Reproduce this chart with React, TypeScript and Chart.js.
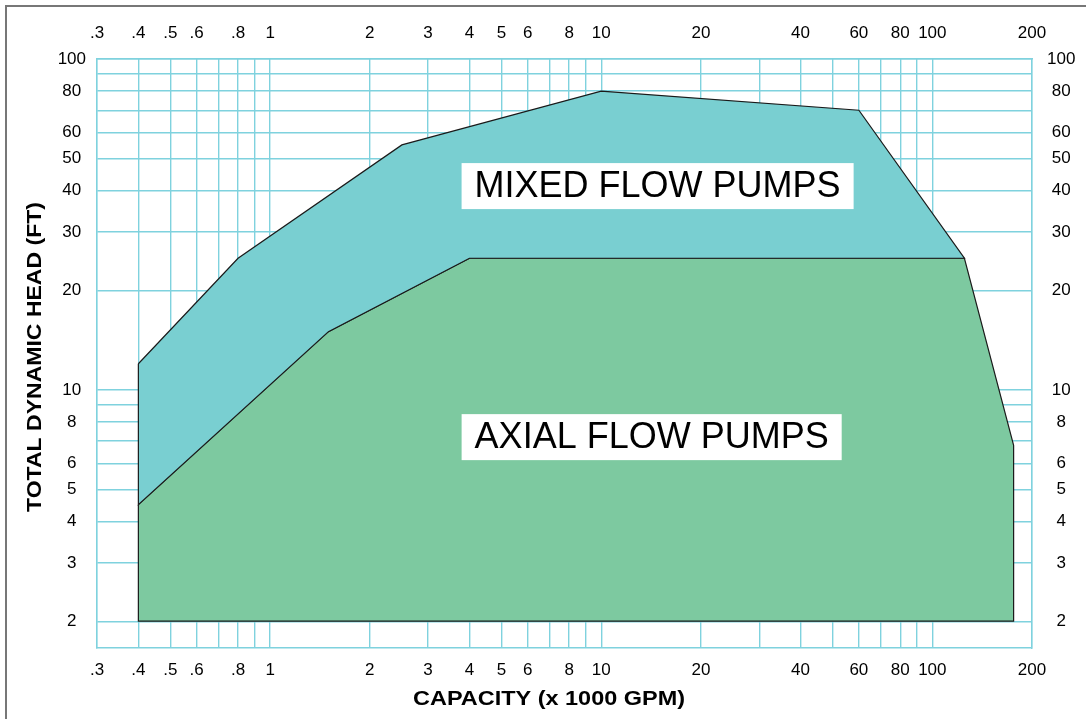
import React, { useEffect, useRef } from "react";
import { Chart, registerables } from "chart.js";

Chart.register(...registerables);

// ---- data ----
const xGridValues = [0.3, 0.4, 0.5, 0.6, 0.7, 0.8, 0.9, 1, 2, 3, 4, 5, 6, 7, 8, 9, 10, 20, 30, 40, 50, 60, 70, 80, 90, 100, 200];
const xLabelValues = [0.3, 0.4, 0.5, 0.6, 0.8, 1, 2, 3, 4, 5, 6, 8, 10, 20, 40, 60, 80, 100, 200];
const xLabelTexts = [".3", ".4", ".5", ".6", ".8", "1", "2", "3", "4", "5", "6", "8", "10", "20", "40", "60", "80", "100", "200"];

const yGridValues = [2, 3, 4, 5, 6, 7, 8, 9, 10, 20, 30, 40, 50, 60, 70, 80, 90, 100];
const yLabelValues = [2, 3, 4, 5, 6, 8, 10, 20, 30, 40, 50, 60, 80, 100];
const yLabelTexts = ["2", "3", "4", "5", "6", "8", "10", "20", "30", "40", "50", "60", "80", "100"];

const mixedX = [0.4, 0.8, 2.5, 10, 60, 125, 4, 1.5, 0.4, 0.4];
const mixedY = [12, 25, 55, 80, 70, 25, 25, 15, 4.5, 12];

const axialX = [0.4, 1.5, 4, 125, 176, 176, 0.4, 0.4];
const axialY = [4.5, 15, 25, 25, 6.8, 2, 2, 4.5];

const regionNames = ["MIXED FLOW PUMPS", "AXIAL FLOW PUMPS"];
const regionLabelX = [14.8, 14.2];
const regionLabelY = [41.3, 7.2];

const xTitle = "CAPACITY (x 1000 GPM)";
const yTitle = "TOTAL DYNAMIC HEAD (FT)";

const X_MIN = 0.3;
const X_MAX = 200;
const Y_MIN = 1.66;
const Y_MAX = 100;

// ---- styles ----
const FONT = "'Liberation Sans', Arial, Helvetica, sans-serif";
const GRID = "#7fd2de";
const MIXED_FILL = "#79cfd1";
const AXIAL_FILL = "#7dc9a0";

const toPts = (xs: number[], ys: number[]) => xs.map((x, i) => ({ x, y: ys[i] }));

const xTickCb = (v: any) => {
  const i = xLabelValues.indexOf(Number(v));
  return i >= 0 ? xLabelTexts[i] : "";
};
const yTickCb = (v: any) => {
  const i = yLabelValues.indexOf(Number(v));
  return i >= 0 ? yLabelTexts[i] : "";
};

const overlayPlugin = {
  id: "overlay",
  beforeDraw(chart: any) {
    const ctx = chart.ctx;
    ctx.save();
    ctx.strokeStyle = "#777777";
    ctx.lineWidth = 2;
    ctx.strokeRect(6, 6, 3000, 3000);
    ctx.restore();
  },
  afterDatasetsDraw(chart: any) {
    const ctx = chart.ctx;
    const xs = chart.scales.x;
    const ys = chart.scales.y;
    ctx.save();
    ctx.font = `36px ${FONT}`;
    ctx.textAlign = "center";
    ctx.textBaseline = "middle";
    regionNames.forEach((name, i) => {
      const cx = xs.getPixelForValue(regionLabelX[i]);
      const cy = ys.getPixelForValue(regionLabelY[i]);
      const w = ctx.measureText(name).width + 26;
      const h = 46;
      ctx.fillStyle = "#ffffff";
      ctx.fillRect(cx - w / 2, cy - h / 2, w, h);
      ctx.fillStyle = "#000000";
      ctx.fillText(name, cx, cy + 1);
    });
    ctx.restore();

    // axis titles
    const drawTitle = (t: string, cx: number, cy: number, rot: number, len: number) => {
      ctx.save();
      ctx.translate(cx, cy);
      ctx.rotate(rot);
      ctx.font = `bold 21px ${FONT}`;
      const w = ctx.measureText(t).width;
      ctx.scale(len / w, 1);
      ctx.fillStyle = "#000000";
      ctx.textAlign = "center";
      ctx.textBaseline = "middle";
      ctx.fillText(t, 0, 0);
      ctx.restore();
    };
    drawTitle(xTitle, 549, 699, 0, 272);
    drawTitle(yTitle, 35, 357, -Math.PI / 2, 310);
  },
};

export default function App() {
  const ref = useRef<HTMLCanvasElement | null>(null);
  useEffect(() => {
    if (!ref.current) return;
    const tickFont = { family: FONT, size: 17 };
    const chart = new Chart(ref.current, {
      type: "scatter",
      data: {
        datasets: [
          {
            label: "Mixed",
            data: toPts(mixedX, mixedY),
            showLine: true,
            fill: "shape",
            backgroundColor: MIXED_FILL,
            borderColor: "#1a1a1a",
            borderWidth: 1.2,
            pointRadius: 0,
            tension: 0,
          },
          {
            label: "Axial",
            data: toPts(axialX, axialY),
            showLine: true,
            fill: "shape",
            backgroundColor: AXIAL_FILL,
            borderColor: "#1a1a1a",
            borderWidth: 1.2,
            pointRadius: 0,
            tension: 0,
          },
        ],
      },
      options: {
        animation: false,
        responsive: false,
        layout: { padding: 0 },
        plugins: { legend: { display: false }, tooltip: { enabled: false } },
        scales: {
          x: {
            type: "logarithmic",
            position: "bottom",
            min: X_MIN,
            max: X_MAX,
            afterBuildTicks: (s: any) => { s.ticks = xGridValues.map((v) => ({ value: v })); },
            afterFit: (s: any) => { s.height = 71; },
            grid: { color: GRID, lineWidth: 1.4, drawTicks: false },
            border: { color: GRID, width: 1.4 },
            ticks: { callback: xTickCb, autoSkip: false, maxRotation: 0, minRotation: 0, padding: 12, color: "#000", font: tickFont },
          },
          x2: {
            type: "logarithmic",
            position: "top",
            min: X_MIN,
            max: X_MAX,
            afterBuildTicks: (s: any) => { s.ticks = xGridValues.map((v) => ({ value: v })); },
            afterFit: (s: any) => { s.height = 59; },
            grid: { display: false, drawTicks: false },
            border: { color: GRID, width: 1.4 },
            ticks: { callback: xTickCb, autoSkip: false, maxRotation: 0, minRotation: 0, padding: 15, color: "#000", font: tickFont },
          },
          y: {
            type: "logarithmic",
            position: "left",
            min: Y_MIN,
            max: Y_MAX,
            afterBuildTicks: (s: any) => { s.ticks = yGridValues.map((v) => ({ value: v })); },
            afterFit: (s: any) => { s.width = 97; },
            grid: { color: GRID, lineWidth: 1.4, drawTicks: false },
            border: { color: GRID, width: 1.4 },
            ticks: { callback: yTickCb, autoSkip: false, crossAlign: "center", padding: 11, color: "#000", font: tickFont },
          },
          y2: {
            type: "logarithmic",
            position: "right",
            min: Y_MIN,
            max: Y_MAX,
            afterBuildTicks: (s: any) => { s.ticks = yGridValues.map((v) => ({ value: v })); },
            afterFit: (s: any) => { s.width = 54; },
            grid: { display: false, drawTicks: false },
            border: { color: GRID, width: 1.4 },
            ticks: { callback: yTickCb, autoSkip: false, crossAlign: "center", padding: 15, color: "#000", font: tickFont },
          },
        },
      } as any,
      plugins: [overlayPlugin],
    });
    return () => chart.destroy();
  }, []);

  return (
    <div style={{ position: "absolute", left: 0, top: 0, width: 1086, height: 719, background: "#fff" }}>
      <canvas ref={ref} width={1086} height={719} style={{ width: 1086, height: 719, display: "block" }} />
    </div>
  );
}
